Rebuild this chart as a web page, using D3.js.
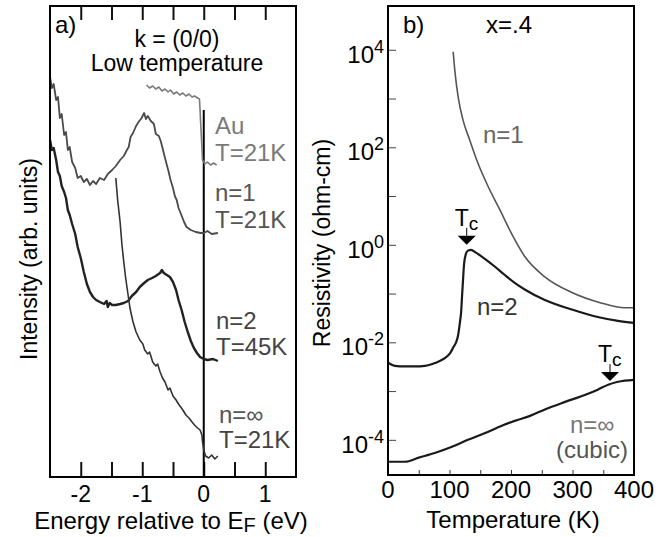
<!DOCTYPE html>
<html>
<head>
<meta charset="utf-8">
<script src="https://cdn.jsdelivr.net/npm/d3@7"></script>
<style>
  body { margin: 0; background: #fff; }
  svg { font-family: "Liberation Sans", Arial, Helvetica, sans-serif; }
</style>
</head>
<body>
<div id="chart"></div>
<script>
// ---------- panel a : photoemission spectra, [energy (eV), intensity (arb.)] ----------
var auTrace = [[-0.93,392],[-0.88,389],[-0.83,391],[-0.78,388],[-0.73,390],[-0.68,386],[-0.63,388],
  [-0.58,385],[-0.54,387],[-0.49,383],[-0.44,385],[-0.39,382],[-0.34,384],[-0.29,381],[-0.24,383],
  [-0.19,380],[-0.15,381],[-0.10,379],[-0.07,378],[-0.06,367],[-0.05,354],[-0.03,330],[-0.02,317],
  [0.02,313],[0.06,315],[0.11,312],[0.16,314],[0.21,312]];

var n1Trace = [[-2.50,400],[-2.47,389],[-2.44,393],[-2.40,377],[-2.37,380],[-2.34,359],[-2.31,363],
  [-2.27,342],[-2.24,345],[-2.21,327],[-2.18,330],[-2.14,315],[-2.09,309],[-2.05,299],[-2.00,301],
  [-1.95,295],[-1.90,298],[-1.85,292],[-1.80,296],[-1.75,293],[-1.69,299],[-1.62,297],[-1.56,303],
  [-1.49,307],[-1.43,311],[-1.36,317],[-1.30,321],[-1.25,327],[-1.22,330],[-1.19,340],[-1.15,344],
  [-1.10,351],[-1.06,355],[-1.01,359],[-0.97,364],[-0.94,358],[-0.91,361],[-0.86,356],[-0.81,353],
  [-0.78,343],[-0.73,341],[-0.70,336],[-0.67,329],[-0.63,319],[-0.60,312],[-0.57,305],[-0.54,297],
  [-0.50,289],[-0.47,281],[-0.44,277],[-0.41,269],[-0.37,263],[-0.32,255],[-0.28,250],[-0.21,247],
  [-0.13,245],[-0.05,244],[0,244],[0.06,246],[0.13,243],[0.23,244]];

var n2Trace = [[-2.50,337],[-2.47,327],[-2.44,329],[-2.40,317],[-2.37,305],[-2.34,301],[-2.31,291],
  [-2.27,285],[-2.24,279],[-2.21,267],[-2.18,262],[-2.14,253],[-2.09,243],[-2.05,230],[-2.00,219],
  [-1.95,205],[-1.90,193],[-1.85,185],[-1.80,180],[-1.75,177],[-1.69,175],[-1.62,173],[-1.58,176],
  [-1.56,170],[-1.53,174],[-1.49,172],[-1.43,172],[-1.36,173],[-1.30,174],[-1.23,176],[-1.17,181],
  [-1.10,185],[-1.04,190],[-0.97,194],[-0.91,197],[-0.84,199],[-0.78,201],[-0.71,204],[-0.68,207],
  [-0.65,204],[-0.60,202],[-0.55,200],[-0.50,195],[-0.45,187],[-0.41,177],[-0.36,167],[-0.31,155],
  [-0.26,145],[-0.21,136],[-0.16,129],[-0.11,124],[-0.06,120],[0,118],[0.06,117],[0.15,118],[0.23,116]];

var ninfTrace = [[-1.43,299],[-1.40,277],[-1.36,255],[-1.33,232],[-1.30,215],[-1.27,199],[-1.23,182],
  [-1.20,169],[-1.15,155],[-1.10,145],[-1.04,137],[-0.99,133],[-0.96,127],[-0.91,123],[-0.88,125],
  [-0.83,115],[-0.78,111],[-0.75,113],[-0.71,105],[-0.67,99],[-0.63,95],[-0.58,87],[-0.55,89],
  [-0.50,81],[-0.45,77],[-0.41,73],[-0.34,67],[-0.29,62],[-0.24,59],[-0.19,55],[-0.15,52],[-0.10,49],
  [-0.06,47],[-0.03,42],[-0.02,35],[0,27],[0.03,21],[0.08,19],[0.13,22],[0.18,18],[0.23,21]];

var energyTicks = [-2, -1.5, -1, -0.5, 0, 0.5, 1];
var energyLabels = [-2, -1, 0, 1];

// ---------- panel b : resistivity, [temperature (K), resistivity (ohm-cm)] ----------
var rhoN1 = [[106,9.1e3],[109,3.4e3],[114,1.1e3],[122,3.6e2],[133,1.4e2],[146,48],[163,15.5],
  [182,5.2],[202,1.6],[223,0.56],[255,0.22],[299,0.105],[345,0.065],[385,0.051],[400,0.051]];

var rhoN2 = [[0,3.8e-3],[11,3.3e-3],[28,3.2e-3],[44,3.2e-3],[60,3.3e-3],[72,3.6e-3],[85,4.2e-3],
  [93,4.8e-3],[101,6.0e-3],[106,7.8e-3],[111,1.02e-2],[114,1.4e-2],[117,2.6e-2],[119,4.3e-2],
  [120.5,9.3e-2],[122,0.19],[123.6,0.39],[126.8,0.66],[130,0.76],[135,0.79],[143,0.69],[158,0.51],
  [174,0.355],[190,0.24],[206,0.166],[223,0.12],[255,0.074],[299,0.047],[341,0.033],[374,0.0275],[400,0.025]];

var rhoNinf = [[0,3.55e-5],[28,3.55e-5],[49,4.27e-5],[76,5.37e-5],[104,7.2e-5],[130,1.0e-4],
  [158,1.38e-4],[185,1.95e-4],[206,2.45e-4],[231,3.1e-4],[255,4.2e-4],[288,6.0e-4],[320,8.3e-4],
  [341,1.07e-3],[358,1.35e-3],[374,1.55e-3],[400,1.7e-3]];

var tcMarks = [[128, 1.0], [361, 1.6e-3]];
var tempTicks = [0, 50, 100, 150, 200, 250, 300, 350, 400];
var tempLabels = [0, 100, 200, 300, 400];
var rhoExps = [-4, -3, -2, -1, 0, 1, 2, 3, 4];
var rhoLabelExps = [-4, -2, 0, 2, 4];

var svg = d3.select("#chart").append("svg")
  .attr("width", 671)
  .attr("height", 537);

/********* panel a *********/
var xA = d3.scaleLinear().domain([-2.5, 1.5]).range([50, 296]);
var yA = d3.scaleLinear().domain([0, 471]).range([477, 6]);

var pa = svg.append("g");

// ticks on bottom and top, pointing inward
pa.append("g")
  .attr("transform", "translate(0,477)")
  .call(d3.axisBottom(xA).tickValues(energyTicks).tickSize(-15).tickFormat(""))
  .call(function(g) {
    g.select(".domain").remove();
    g.selectAll("line").attr("stroke", "#111").attr("stroke-width", 2);
  });
pa.append("g")
  .attr("transform", "translate(0,6)")
  .call(d3.axisTop(xA).tickValues(energyTicks).tickSize(-14).tickFormat(""))
  .call(function(g) {
    g.select(".domain").remove();
    g.selectAll("line").attr("stroke", "#111").attr("stroke-width", 2);
  });

pa.selectAll(".xlabA")
  .data(energyLabels)
  .enter().append("text")
  .attr("x", function(d) { return xA(d); })
  .attr("y", 502)
  .attr("text-anchor", "middle")
  .style("font-size", "23px")
  .text(function(d) { return d < 0 ? "-" + Math.abs(d) : d; });

// Fermi level line
pa.append("line")
  .attr("x1", xA(0)).attr("x2", xA(0))
  .attr("y1", yA(367)).attr("y2", yA(0))
  .attr("stroke", "#000").attr("stroke-width", 2);

var lineA = d3.line()
  .x(function(d) { return xA(d[0]); })
  .y(function(d) { return yA(d[1]); });

var tracesA = [
  { data: auTrace, color: "#7a7a7a", width: 1.6 },
  { data: n1Trace, color: "#4a4a4a", width: 1.8 },
  { data: n2Trace, color: "#222", width: 2.4 },
  { data: ninfTrace, color: "#333", width: 1.6 }
];
pa.selectAll(".trace")
  .data(tracesA)
  .enter().append("path")
  .attr("class", "trace")
  .attr("fill", "none")
  .attr("stroke", function(d) { return d.color; })
  .attr("stroke-width", function(d) { return d.width; })
  .attr("stroke-linejoin", "round")
  .attr("d", function(d) { return lineA(d.data); });

pa.append("rect")
  .attr("x", 50).attr("y", 6).attr("width", 246).attr("height", 471)
  .attr("fill", "none").attr("stroke", "#000").attr("stroke-width", 2);

// trace labels
var labelsA = [
  ["Au", 215, 134, "#7a7a7a"], ["T=21K", 215, 161, "#7a7a7a"],
  ["n=1", 215, 201, "#555"], ["T=21K", 215, 228, "#555"],
  ["n=2", 216, 329, "#444"], ["T=45K", 216, 355, "#444"],
  ["n=\u221e", 219, 423, "#555"], ["T=21K", 219, 448, "#444"]
];
pa.selectAll(".labA")
  .data(labelsA)
  .enter().append("text")
  .attr("x", function(d) { return d[1]; })
  .attr("y", function(d) { return d[2]; })
  .attr("fill", function(d) { return d[3]; })
  .style("font-size", "24px")
  .text(function(d) { return d[0]; });

pa.append("text").attr("x", 55).attr("y", 33).style("font-size", "24px").text("a)");
pa.append("text").attr("x", 177).attr("y", 47).attr("text-anchor", "middle")
  .style("font-size", "23px").text("k = (0/0)");
pa.append("text").attr("x", 177).attr("y", 71).attr("text-anchor", "middle")
  .style("font-size", "23px").text("Low temperature");

var xtA = pa.append("text").attr("x", 171).attr("y", 529).attr("text-anchor", "middle")
  .style("font-size", "24px");
xtA.append("tspan").text("Energy relative to E");
xtA.append("tspan").attr("dy", 3).style("font-size", "20px").text("F");
xtA.append("tspan").attr("dy", -3).text(" (eV)");

pa.append("text")
  .attr("transform", "translate(37,259) rotate(-90)")
  .attr("text-anchor", "middle")
  .style("font-size", "23px")
  .text("Intensity (arb. units)");

/********* panel b *********/
var xB = d3.scaleLinear().domain([0, 400]).range([388, 634]);
var yB = d3.scaleLog().domain([1.9e-5, 7.9e4]).range([475, 6]);

var pb = svg.append("g");

pb.append("g")
  .attr("transform", "translate(0,475)")
  .call(d3.axisBottom(xB).tickValues(tempTicks).tickSize(-5).tickFormat(""))
  .call(function(g) {
    g.select(".domain").remove();
    g.selectAll("line").attr("stroke", "#333").attr("stroke-width", 1);
  });

pb.append("g")
  .attr("transform", "translate(388,0)")
  .call(d3.axisLeft(yB).tickValues(rhoExps.map(function(e) { return Math.pow(10, e); }))
    .tickSize(-8).tickFormat(""))
  .call(function(g) {
    g.select(".domain").remove();
    g.selectAll("line").attr("stroke", "#444").attr("stroke-width", 1);
  });

pb.selectAll(".xlabB")
  .data(tempLabels)
  .enter().append("text")
  .attr("x", function(d) { return xB(d); })
  .attr("y", 498)
  .attr("text-anchor", "middle")
  .style("font-size", "24px")
  .text(function(d) { return d; });

var ylabB = pb.selectAll(".ylabB")
  .data(rhoLabelExps)
  .enter().append("text")
  .attr("x", 384)
  .attr("y", function(d) { return yB(Math.pow(10, d)) + 13; })
  .attr("text-anchor", "end")
  .style("font-size", "24px");
ylabB.append("tspan").text("10");
ylabB.append("tspan").attr("dy", -10).style("font-size", "18px")
  .text(function(d) { return d < 0 ? "-" + Math.abs(d) : d; });

var lineB = d3.line()
  .curve(d3.curveMonotoneX)
  .x(function(d) { return xB(d[0]); })
  .y(function(d) { return yB(d[1]); });

var tracesB = [
  { data: rhoN1, color: "#555", width: 1.6 },
  { data: rhoN2, color: "#1a1a1a", width: 2.2 },
  { data: rhoNinf, color: "#1a1a1a", width: 2.2 }
];
pb.selectAll(".rho")
  .data(tracesB)
  .enter().append("path")
  .attr("class", "rho")
  .attr("fill", "none")
  .attr("stroke", function(d) { return d.color; })
  .attr("stroke-width", function(d) { return d.width; })
  .attr("d", function(d) { return lineB(d.data); });

pb.append("rect")
  .attr("x", 388).attr("y", 6).attr("width", 246).attr("height", 469)
  .attr("fill", "none").attr("stroke", "#000").attr("stroke-width", 2);

// Tc arrows
var tc = pb.selectAll(".tc")
  .data(tcMarks)
  .enter().append("g")
  .attr("transform", function(d) { return "translate(" + xB(d[0]) + "," + yB(d[1]) + ")"; });
tc.append("path").attr("d", "M0,0 L-9,-9 L9,-9 Z").attr("fill", "#000");
tc.append("line").attr("x1", 0).attr("x2", 0).attr("y1", -9).attr("y2", -17)
  .attr("stroke", "#000").attr("stroke-width", 1);
var tcText = tc.append("text").attr("x", -12).attr("y", -19).style("font-size", "23px");
tcText.append("tspan").text("T");
tcText.append("tspan").attr("dy", 4).style("font-size", "19px").text("c");

var labelsB = [
  ["n=1", 483, 143, "#666"], ["n=2", 477, 315, "#333"],
  ["n=\u221e", 570, 433, "#777"], ["(cubic)", 556, 458, "#555"]
];
pb.selectAll(".labB")
  .data(labelsB)
  .enter().append("text")
  .attr("x", function(d) { return d[1]; })
  .attr("y", function(d) { return d[2]; })
  .attr("fill", function(d) { return d[3]; })
  .style("font-size", "24px")
  .text(function(d) { return d[0]; });

pb.append("text").attr("x", 403).attr("y", 33).style("font-size", "24px").text("b)");
pb.append("text").attr("x", 486).attr("y", 33).style("font-size", "24px").text("x=.4");

pb.append("text").attr("x", 513).attr("y", 528).attr("text-anchor", "middle")
  .style("font-size", "24px").text("Temperature (K)");

pb.append("text")
  .attr("transform", "translate(330,243) rotate(-90)")
  .attr("text-anchor", "middle")
  .style("font-size", "23px")
  .text("Resistivity (ohm-cm)");
</script>
</body>
</html>
